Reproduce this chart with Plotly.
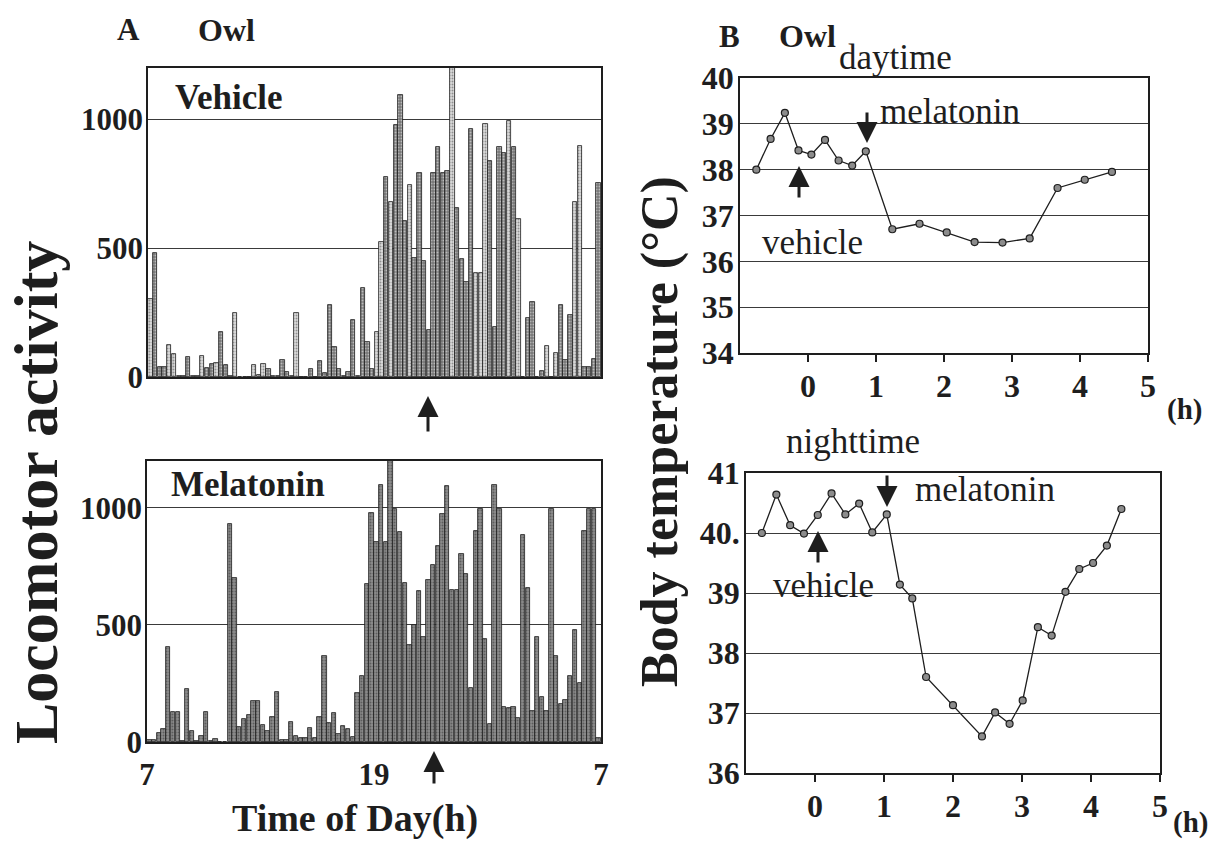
import numpy as np
import plotly.graph_objects as go

# ---------------- data ----------------
# Panel A: locomotor activity, 96 bins over 24 h (7:00 -> 7:00)
vehicle = [301, 483, 40, 40, 123, 88, 5, 5, 78, 5, 5, 83, 36, 49, 55, 173, 47, 5, 249, 0, 0, 0, 47, 6, 52, 30, 2, 2, 66, 19, 3, 247,
           0, 0, 33, 0, 63, 14, 280, 115, 30, 3, 20, 223, 5, 344, 137, 30, 175, 525, 778, 680, 978, 1096, 604, 746, 462, 791, 452, 183, 794, 893, 794, 800,
           1200, 655, 459, 369, 963, 405, 405, 982, 839, 193, 893, 871, 995, 893, 612, 0, 230, 291, 0, 24, 119, 0, 94, 278, 66, 242, 680, 897, 37, 37, 69, 754]
vehicle_open_bins = [0, 4, 5, 11, 14, 18, 22, 24, 31, 48, 49, 51, 55, 64, 69, 70, 71, 76, 78, 84, 86, 90, 91]
melatonin = [8, 8, 40, 55, 405, 128, 128, 5, 225, 48, 5, 24, 128, 3, 14, 2, 2, 930, 700, 64, 100, 116, 173, 173, 74, 48, 107, 213, 7, 10, 85,
             26, 15, 15, 60, 18, 107, 366, 80, 125, 33, 68, 54, 21, 210, 281, 675, 980, 856, 1098, 856, 1200, 996, 896, 679, 413, 500, 646, 447, 693, 754, 838, 974, 1094,
             650, 650, 803, 717, 229, 903, 997, 440, 79, 1097, 997, 150, 146, 150, 104, 886, 657, 131, 449, 193, 131, 996, 369, 161, 179, 281, 479, 254, 903, 996, 996, 17]
time_ticks = [0, 12, 24]
time_labels = ["7", "19", "7"]
activity_ticks = [0, 500, 1000]

# Panel B: body temperature
day_t = [-0.76, -0.55, -0.34, -0.14, 0.05, 0.25, 0.45, 0.65, 0.85, 1.24, 1.64, 2.04, 2.45, 2.86, 3.26, 3.67, 4.07, 4.47]
day_temp = [38.0, 38.67, 39.24, 38.42, 38.33, 38.65, 38.2, 38.09, 38.4, 36.7, 36.82, 36.63, 36.42, 36.41, 36.5, 37.6, 37.78, 37.95]
night_t = [-0.77, -0.56, -0.36, -0.16, 0.04, 0.24, 0.44, 0.64, 0.83, 1.04, 1.23, 1.41, 1.61, 2.0, 2.42, 2.61, 2.82, 3.01,
           3.23, 3.43, 3.63, 3.83, 4.03, 4.23, 4.44]
night_temp = [40.0, 40.64, 40.13, 39.99, 40.3, 40.66, 40.31, 40.49, 40.01, 40.31, 39.14, 38.91, 37.6, 37.13, 36.61, 37.01,
              36.82, 37.21, 38.43, 38.29, 39.02, 39.4, 39.5, 39.79, 40.4]
hour_ticks = [0, 1, 2, 3, 4, 5]
day_temp_ticks = [34, 35, 36, 37, 38, 39, 40]
night_temp_ticks = [36, 37, 38, 39, 40, 41]
night_temp_labels = ["36", "37", "38", "39", "40.", "41"]

# ---------------- figure ----------------
W, H = 1220, 844
SERIF = "Liberation Serif"
INK = "#1e1e1e"
GRID = "#3a3a3a"

def px(x):
    return x / W

def py(y):
    return 1 - y / H

fig = go.Figure()

n = len(vehicle)
width_h = 24.0 / n
centers = (np.arange(n) + 0.5) * width_h

veh_fill = ["#dcdcdc" if i in vehicle_open_bins else "#777777" for i in range(n)]
fig.add_trace(go.Bar(x=centers, y=vehicle, width=width_h * 0.92, xaxis="x", yaxis="y",
                     marker=dict(color=veh_fill, line=dict(color=INK, width=0.8),
                                 pattern=dict(shape=".", size=3, solidity=0.35, fgcolor="#2e2e2e",
                                              bgcolor=veh_fill, fillmode="overlay")),
                     showlegend=False))
fig.add_trace(go.Bar(x=centers, y=melatonin, width=width_h * 0.92, xaxis="x2", yaxis="y2",
                     marker=dict(color="#8a8a8a", line=dict(color=INK, width=0.8),
                                 pattern=dict(shape=".", size=3, solidity=0.35, fgcolor="#2e2e2e",
                                              bgcolor="#8c8c8c", fillmode="overlay")),
                     showlegend=False))

mk = dict(size=7, color="#8c8c8c", line=dict(color=INK, width=1.2))
fig.add_trace(go.Scatter(x=day_t, y=day_temp, mode="lines+markers", xaxis="x3", yaxis="y3",
                         line=dict(color=INK, width=1.3), marker=mk, showlegend=False))
fig.add_trace(go.Scatter(x=night_t, y=night_temp, mode="lines+markers", xaxis="x4", yaxis="y4",
                         line=dict(color=INK, width=1.3), marker=mk, showlegend=False))

tickfont_a = dict(family=SERIF, size=31, color=INK, weight="bold")
tickfont_b = dict(family=SERIF, size=32, color=INK, weight="bold")

common_bar_x = dict(range=[0, 24], showgrid=False, zeroline=False, showline=True, linecolor=INK,
                    linewidth=1.5, mirror=True, ticks="", automargin=False)
common_bar_y = dict(range=[0, 1200], tickvals=activity_ticks, showgrid=True, gridcolor=GRID, gridwidth=1.3,
                    zeroline=False, showline=True, linecolor=INK, linewidth=1.5, mirror=True, ticks="",
                    tickfont=tickfont_a, ticklabelstandoff=-3, automargin=False)
common_b_x = dict(range=[-1, 5], tickvals=hour_ticks, showgrid=False, zeroline=False, showline=True,
                  linecolor=INK, linewidth=1.5, mirror=True, ticks="outside", ticklen=7, tickwidth=1.5,
                  tickcolor=INK, tickfont=tickfont_b, ticklabelstandoff=-3, automargin=False)
common_b_y = dict(showgrid=True, gridcolor=GRID, gridwidth=1.3, zeroline=False, showline=True, linecolor=INK,
                  linewidth=1.5, mirror=True, ticks="", tickfont=tickfont_b, ticklabelstandoff=-2,
                  automargin=False)

fig.update_layout(
    width=W, height=H, margin=dict(l=0, r=0, t=0, b=0, pad=0, autoexpand=False),
    paper_bgcolor="white", plot_bgcolor="white", bargap=0, showlegend=False,
    font=dict(family=SERIF, color=INK),
    xaxis=dict(domain=[px(148), px(601)], anchor="y", showticklabels=False, **common_bar_x),
    yaxis=dict(domain=[py(377), py(68)], anchor="x", **common_bar_y),
    xaxis2=dict(domain=[px(147), px(601)], anchor="y2", tickvals=time_ticks, ticktext=time_labels,
                tickfont=tickfont_a, showticklabels=True, ticklabelstandoff=4, **common_bar_x),
    yaxis2=dict(domain=[py(742), py(461)], anchor="x2", **common_bar_y),
    xaxis3=dict(domain=[px(740), px(1148)], anchor="y3", **common_b_x),
    yaxis3=dict(domain=[py(353), py(78)], anchor="x3", range=[34, 40], tickvals=day_temp_ticks, **common_b_y),
    xaxis4=dict(domain=[px(746), px(1160)], anchor="y4", **common_b_x),
    yaxis4=dict(domain=[py(773), py(473)], anchor="x4", range=[36, 41], tickvals=night_temp_ticks,
                ticktext=night_temp_labels, **common_b_y),
)

def text(x, y, s, size=24, bold=True, angle=0):
    font = dict(family=SERIF, size=size, color=INK)
    if bold:
        font["weight"] = "bold"
    fig.add_annotation(x=px(x), y=py(y), xref="paper", yref="paper", text=s,
                       showarrow=False, textangle=angle, xanchor="center", yanchor="middle",
                       font=font)

def arrow(x, y_tip, y_tail):
    fig.add_annotation(x=px(x), y=py(y_tip), xref="paper", yref="paper", text="", showarrow=True,
                       ax=0, ay=y_tail - y_tip, arrowhead=2, arrowsize=1.4, arrowwidth=3, arrowcolor=INK)

text(128, 30, "A", 31)
text(226, 30, "Owl", 32)
text(229, 97, "Vehicle", 35)
text(248, 484, "Melatonin", 35)
text(355, 818, "Time of Day(h)", 38)
text(36, 493, "Locomotor activity", 62, angle=-90)
arrow(428, 396, 433)
arrow(434, 751, 785)

text(729, 36, "B", 31)
text(807, 36, "Owl", 32)
text(895, 58, "daytime", 35, bold=False)
text(950, 111, "melatonin", 35, bold=False)
text(812, 242, "vehicle", 35, bold=False)
text(853, 441, "nighttime", 35, bold=False)
text(985, 489, "melatonin", 35, bold=False)
text(823, 585, "vehicle", 35, bold=False)
text(660, 432, "Body temperature (°C)", 52, angle=-90)
text(1184, 410, "(h)", 29)
text(1190, 822, "(h)", 29)
arrow(867, 143, 111)
arrow(799, 166, 199)
arrow(887, 507, 474)
arrow(818, 531, 564)

fig.write_html("out.html")
